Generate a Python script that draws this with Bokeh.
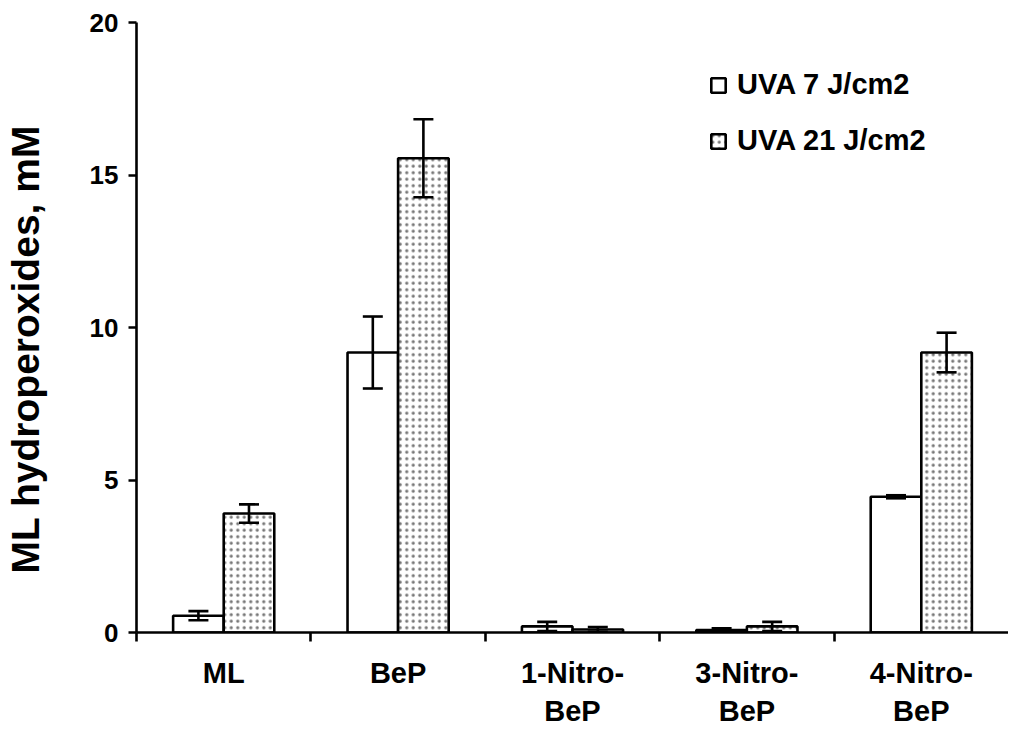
import math
from bokeh.plotting import figure
from bokeh.models import (ColumnDataSource, Whisker, TeeHead, FixedTicker, Legend,
                          LegendItem, Range1d)
from bokeh.embed import file_html
from bokeh.resources import INLINE

categories = ["ML", "BeP", "1-Nitro-\nBeP", "3-Nitro-\nBeP", "4-Nitro-\nBeP"]
uva7 = [0.55, 9.18, 0.20, 0.08, 4.45]
uva7_err = [0.15, 1.18, 0.15, 0.06, 0.05]
uva21 = [3.90, 15.55, 0.10, 0.20, 9.18]
uva21_err = [0.30, 1.28, 0.08, 0.15, 0.65]
series_names = ["UVA 7 J/cm2", "UVA 21 J/cm2"]
y_ticks = [0, 5, 10, 15, 20]
y_title = "ML hydroperoxides, mM"

FONT = "Liberation Sans"
LW = 2.6
BAR_W = 0.29

centers = [i + 0.5 for i in range(len(categories))]
x7 = [c - BAR_W / 2 for c in centers]
x21 = [c + BAR_W / 2 for c in centers]

src7 = ColumnDataSource(dict(x=x7, top=uva7,
                             lo=[v - e for v, e in zip(uva7, uva7_err)],
                             hi=[v + e for v, e in zip(uva7, uva7_err)]))
src21 = ColumnDataSource(dict(x=x21, top=uva21,
                              lo=[v - e for v, e in zip(uva21, uva21_err)],
                              hi=[v + e for v, e in zip(uva21, uva21_err)]))

p = figure(width=1008, height=729, output_backend="svg", toolbar_location=None,
           x_range=Range1d(0, len(categories)), y_range=Range1d(0, 20),
           min_border_left=134, min_border_right=0, min_border_top=22,
           min_border_bottom=60)
p.outline_line_color = None
p.xgrid.visible = False
p.ygrid.visible = False
p.background_fill_color = "white"
p.border_fill_color = "white"

r7 = p.vbar(x="x", top="top", bottom=0, width=BAR_W, source=src7,
            fill_color="white", line_color="black", line_width=LW)
r21 = p.vbar(x="x", top="top", bottom=0, width=BAR_W, source=src21,
             fill_color="white", line_color="black", line_width=LW,
             hatch_pattern="dot", hatch_color="#777777", hatch_scale=6.5,
             hatch_weight=1.1)

for s in (src7, src21):
    w = Whisker(base="x", upper="hi", lower="lo", source=s, level="overlay",
                line_color="black", line_width=LW,
                upper_head=TeeHead(size=20, line_width=LW, line_color="black"),
                lower_head=TeeHead(size=20, line_width=LW, line_color="black"))
    p.add_layout(w)

# y axis
p.yaxis.ticker = FixedTicker(ticks=y_ticks)
p.yaxis.axis_line_width = LW
p.yaxis.major_tick_line_width = LW
p.yaxis.major_tick_out = 8
p.yaxis.major_tick_in = 0
p.yaxis.minor_tick_line_color = None
p.yaxis.major_label_text_font = FONT
p.yaxis.major_label_text_font_style = "bold"
p.yaxis.major_label_text_font_size = "26px"
p.yaxis.major_label_text_color = "black"
p.yaxis.major_label_standoff = 10
p.yaxis.axis_label = y_title + "\u00a0" * 4
p.yaxis.axis_label_text_font = FONT
p.yaxis.axis_label_text_font_style = "bold"
p.yaxis.axis_label_text_font_size = "39px"
p.yaxis.axis_label_text_color = "black"
p.yaxis.axis_label_standoff = 40

# x axis
p.xaxis.ticker = FixedTicker(ticks=centers, minor_ticks=list(range(len(categories))))
p.xaxis.major_label_overrides = {c: lab for c, lab in zip(centers, categories)}
p.xaxis.axis_line_width = LW
p.xaxis.major_tick_line_color = None
p.xaxis.major_tick_out = 0
p.xaxis.major_tick_in = 0
p.xaxis.minor_tick_line_width = LW
p.xaxis.minor_tick_line_color = "black"
p.xaxis.minor_tick_out = 9
p.xaxis.minor_tick_in = 0
p.xaxis.major_label_text_font = FONT
p.xaxis.major_label_text_font_style = "bold"
p.xaxis.major_label_text_font_size = "29px"
p.xaxis.major_label_text_color = "black"
p.xaxis.major_label_standoff = 15

legend = Legend(items=[LegendItem(label=series_names[0], renderers=[r7]),
                       LegendItem(label=series_names[1], renderers=[r21])],
                location=(573, 475), orientation="vertical",
                glyph_width=18, glyph_height=18, label_standoff=10, spacing=23,
                padding=10, margin=0,
                border_line_color=None, background_fill_alpha=0,
                label_text_font=FONT, label_text_font_style="bold",
                label_text_font_size="29px", label_text_color="black")
p.add_layout(legend)

open("out.html", "w").write(file_html(p, INLINE))
